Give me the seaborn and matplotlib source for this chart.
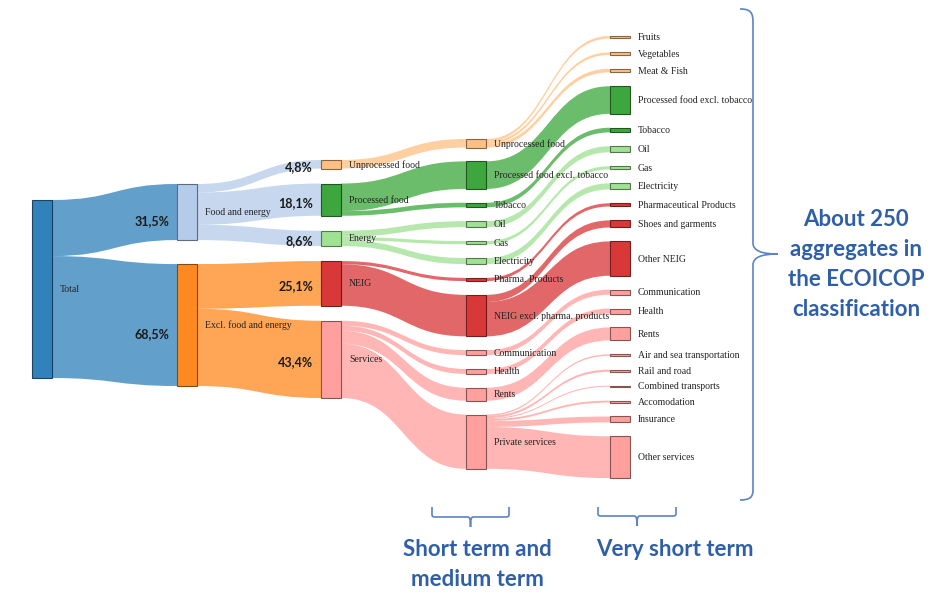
import matplotlib
matplotlib.use("Agg")
import matplotlib.pyplot as plt
from matplotlib.path import Path
from matplotlib.patches import PathPatch, Rectangle
import seaborn as sns

# ---- data: tree of HICP aggregates, weights in % ----
root_label = "Total"
root_value = 100.0

lvl1_labels = ["Food and energy", "Excl. food and energy"]
lvl1_parents = ["Total", "Total"]
lvl1_values = [31.5, 68.5]

lvl2_labels = ["Unprocessed food", "Processed food", "Energy", "NEIG", "Services"]
lvl2_parents = ["Food and energy", "Food and energy", "Food and energy",
                "Excl. food and energy", "Excl. food and energy"]
lvl2_values = [4.8, 18.1, 8.6, 25.1, 43.4]

lvl3_labels = ["Unprocessed food", "Processed food excl. tobacco", "Tobacco", "Oil", "Gas",
               "Electricity", "Pharma. Products", "NEIG excl. pharma. products",
               "Communication", "Health", "Rents", "Private services"]
lvl3_parents = ["Unprocessed food", "Processed food", "Processed food", "Energy", "Energy",
                "Energy", "NEIG", "NEIG", "Services", "Services", "Services", "Services"]
lvl3_values = [4.8, 15.5, 2.6, 3.4, 1.8, 3.4, 1.8, 23.3, 2.8, 2.8, 7.3, 30.5]

lvl4_labels = ["Fruits", "Vegetables", "Meat & Fish", "Processed food excl. tobacco", "Tobacco",
               "Oil", "Gas", "Electricity", "Pharmaceutical Products", "Shoes and garments",
               "Other NEIG", "Communication", "Health", "Rents", "Air and sea transportation",
               "Rail and road", "Combined transports", "Accomodation", "Insurance",
               "Other services"]
lvl4_parents = ["Unprocessed food", "Unprocessed food", "Unprocessed food",
                "Processed food excl. tobacco", "Tobacco", "Oil", "Gas", "Electricity",
                "Pharma. Products", "NEIG excl. pharma. products", "NEIG excl. pharma. products",
                "Communication", "Health", "Rents", "Private services", "Private services",
                "Private services", "Private services", "Private services", "Private services"]
lvl4_values = [1.4, 1.4, 2.0, 15.5, 2.6, 3.4, 1.8, 3.4, 1.8, 4.0, 19.3, 2.8, 2.8, 7.3,
               0.8, 1.2, 0.6, 1.1, 3.3, 23.5]

# ---- style / layout ----
sns.set_theme(style="white")
pal = sns.color_palette("tab20")
root_color = pal[0]
lvl1_colors = [pal[1], pal[2]]
lvl2_colors = [pal[3], pal[4], pal[5], pal[6], pal[7]]

scale = 1.78                      # px per percentage point
col_x = [32, 177, 321, 466, 610]
col_top = [200, 184, 160, 139, 36]
col_gap = [0, 24, 15, 13.8, 13.9]
node_w = 20
serif = ["Liberation Serif", "DejaVu Serif"]
sans = ["Lato", "DejaVu Sans"]
blue = "#2f5fa7"
brace_col = "#5b83c6"

levels = [
    ([root_label], [None], [root_value]),
    (lvl1_labels, lvl1_parents, lvl1_values),
    (lvl2_labels, lvl2_parents, lvl2_values),
    (lvl3_labels, lvl3_parents, lvl3_values),
    (lvl4_labels, lvl4_parents, lvl4_values),
]

# node geometry
nodes = []
for c, (labels, parents, values) in enumerate(levels):
    y = col_top[c]
    col_nodes = []
    for lab, par, val in zip(labels, parents, values):
        h = val * scale
        col_nodes.append({"label": lab, "parent": par, "value": val,
                          "y0": y, "y1": y + h, "out": y})
        y += h + col_gap[c]
    nodes.append(col_nodes)

# colours: levels 0-2 own colour, deeper levels inherit
nodes[0][0]["color"] = root_color
for n, col in zip(nodes[1], lvl1_colors):
    n["color"] = col
for n, col in zip(nodes[2], lvl2_colors):
    n["color"] = col
for c in (3, 4):
    for n in nodes[c]:
        par = next(p for p in nodes[c - 1] if p["label"] == n["parent"])
        n["color"] = par["color"]

fig = plt.figure(figsize=(9.42, 6.0), dpi=100)
ax = fig.add_axes([0, 0, 1, 1])
ax.set_xlim(0, 942)
ax.set_ylim(600, 0)
ax.axis("off")

# links
for c in range(1, 5):
    for n in nodes[c]:
        par = next(p for p in nodes[c - 1] if p["label"] == n["parent"])
        h = n["y1"] - n["y0"]
        sy0 = par["out"]
        sy1 = sy0 + h
        par["out"] = sy1
        xs = col_x[c - 1] + node_w
        xt = col_x[c]
        xm = (xs + xt) / 2
        verts = [(xs, sy0), (xm, sy0), (xm, n["y0"]), (xt, n["y0"]),
                 (xt, n["y1"]), (xm, n["y1"]), (xm, sy1), (xs, sy1), (xs, sy0)]
        codes = [Path.MOVETO, Path.CURVE4, Path.CURVE4, Path.CURVE4,
                 Path.LINETO, Path.CURVE4, Path.CURVE4, Path.CURVE4, Path.CLOSEPOLY]
        ax.add_patch(PathPatch(Path(verts, codes), facecolor=par["color"],
                               edgecolor="none", alpha=0.7, zorder=1))

# nodes + labels
for c, col_nodes in enumerate(nodes):
    for n in col_nodes:
        edge = tuple(v * 0.49 for v in n["color"])
        ax.add_patch(Rectangle((col_x[c], n["y0"]), node_w, n["y1"] - n["y0"],
                               facecolor=n["color"], edgecolor=edge, lw=0.8,
                               alpha=0.92, zorder=3))
        yc = (n["y0"] + n["y1"]) / 2 + 0.5
        ax.text(col_x[c] + node_w + 8, yc, n["label"], family=serif, fontsize=7,
                color="#222222", ha="left", va="center", zorder=4)

# percentage labels for levels 1 and 2
pct_dy = {1: 9, 2: 3}
for c in (1, 2):
    for n in nodes[c]:
        yc = (n["y0"] + n["y1"]) / 2 + pct_dy[c]
        txt = f"{n['value']:.1f}".replace(".", ",") + "%"
        ax.text(col_x[c] - 8, yc, txt, family=sans, fontweight="bold", fontsize=9,
                color="#1a1a1a", ha="right", va="center", zorder=4)

# right curly brace
rb = [(740, 9), (750, 9), (753, 12), (753, 22), (753, 243),
      (753, 251), (762, 254), (778, 254),
      (762, 254), (753, 257), (753, 265), (753, 490),
      (753, 497), (750, 500), (740, 500)]
rc = [Path.MOVETO, Path.CURVE4, Path.CURVE4, Path.CURVE4, Path.LINETO,
      Path.CURVE4, Path.CURVE4, Path.CURVE4,
      Path.CURVE4, Path.CURVE4, Path.CURVE4, Path.LINETO,
      Path.CURVE4, Path.CURVE4, Path.CURVE4]
ax.add_patch(PathPatch(Path(rb, rc), facecolor="none", edgecolor=brace_col, lw=1.2))


def bottom_brace(x0, x1, ytop, yline, ytip):
    xm = (x0 + x1) / 2
    v = [(x0, ytop), (x0, yline - 3), (x0, yline), (x0 + 1, yline), (x0 + 4, yline),
         (xm - 3, yline), (xm - 1, yline), (xm, yline + 1), (xm, ytip),
         (xm, yline + 1), (xm + 1, yline), (xm + 3, yline),
         (x1 - 4, yline), (x1 - 1, yline), (x1, yline), (x1, yline - 3), (x1, ytop)]
    cds = [Path.MOVETO, Path.LINETO, Path.CURVE4, Path.CURVE4, Path.CURVE4,
           Path.LINETO, Path.CURVE4, Path.CURVE4, Path.CURVE4,
           Path.CURVE4, Path.CURVE4, Path.CURVE4,
           Path.LINETO, Path.CURVE4, Path.CURVE4, Path.CURVE4, Path.LINETO]
    ax.add_patch(PathPatch(Path(v, cds), facecolor="none", edgecolor=brace_col, lw=1.2))


bottom_brace(432, 509, 507, 517, 527)
bottom_brace(598, 676, 507, 516, 526)

big = dict(family=sans, fontweight="bold", fontsize=16, color=blue,
           ha="center", va="center")
ax.text(477, 549, "Short term and", **big)
ax.text(477, 579, "medium term", **big)
ax.text(675, 549, "Very short term", **big)
for i, line in enumerate(["About 250", "aggregates in", "the ECOICOP", "classification"]):
    ax.text(856, 219 + i * 30, line, **big)

fig.savefig("out.png", dpi=100)
